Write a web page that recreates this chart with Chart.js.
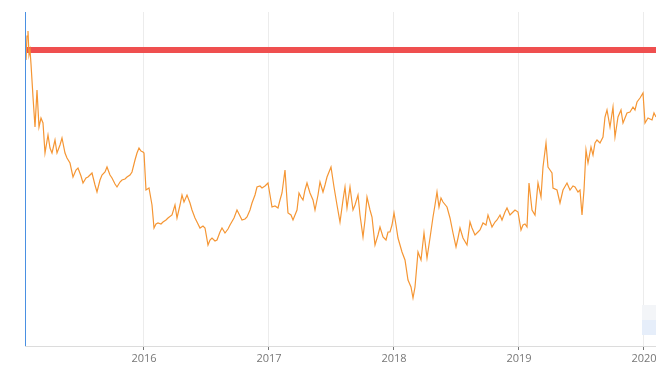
<!DOCTYPE html>
<html>
<head>
<meta charset="utf-8">
<script src="https://cdn.jsdelivr.net/npm/chart.js@4/dist/chart.umd.min.js"></script>
<style>
  html, body { margin: 0; padding: 0; background: #fff; }
  body { width: 656px; height: 369px; overflow: hidden; }
  #chart { display: block; }
</style>
</head>
<body>
<canvas id="chart" width="700" height="369"></canvas>
<script>
/******************************** data ********************************/
// decimal years
const years = [
  2015.048, 2015.056, 2015.064, 2015.072, 2015.080, 2015.088, 2015.096, 2015.112, 2015.128, 2015.144,
  2015.160, 2015.176, 2015.192, 2015.208, 2015.232, 2015.248, 2015.264, 2015.288, 2015.304, 2015.328,
  2015.344, 2015.368, 2015.384, 2015.408, 2015.432, 2015.456, 2015.472, 2015.496, 2015.512, 2015.536,
  2015.552, 2015.584, 2015.608, 2015.624, 2015.648, 2015.664, 2015.688, 2015.704, 2015.728, 2015.744,
  2015.768, 2015.784, 2015.808, 2015.824, 2015.848, 2015.864, 2015.888, 2015.904, 2015.928, 2015.944,
  2015.960, 2015.976, 2015.992, 2016.000, 2016.016, 2016.040, 2016.064, 2016.080, 2016.096, 2016.112,
  2016.136, 2016.152, 2016.176, 2016.192, 2016.224, 2016.248, 2016.264, 2016.288, 2016.304, 2016.320,
  2016.344, 2016.368, 2016.384, 2016.408, 2016.424, 2016.448, 2016.472, 2016.488, 2016.512, 2016.528,
  2016.544, 2016.568, 2016.584, 2016.608, 2016.624, 2016.648, 2016.672, 2016.688, 2016.720, 2016.744,
  2016.768, 2016.784, 2016.808, 2016.824, 2016.848, 2016.864, 2016.888, 2016.904, 2016.928, 2016.944,
  2016.968, 2016.992, 2017.008, 2017.024, 2017.048, 2017.072, 2017.088, 2017.104, 2017.128, 2017.144,
  2017.152, 2017.176, 2017.192, 2017.208, 2017.224, 2017.240, 2017.256, 2017.272, 2017.288, 2017.304,
  2017.328, 2017.352, 2017.368, 2017.392, 2017.408, 2017.432, 2017.448, 2017.464, 2017.480, 2017.496,
  2017.520, 2017.544, 2017.568, 2017.592, 2017.608, 2017.624, 2017.648, 2017.672, 2017.688, 2017.712,
  2017.728, 2017.752, 2017.768, 2017.784, 2017.808, 2017.824, 2017.848, 2017.872, 2017.888, 2017.912,
  2017.936, 2017.952, 2017.968, 2017.984, 2018.000, 2018.016, 2018.032, 2018.048, 2018.064, 2018.088,
  2018.112, 2018.136, 2018.152, 2018.168, 2018.192, 2018.216, 2018.240, 2018.264, 2018.288, 2018.312,
  2018.328, 2018.344, 2018.360, 2018.376, 2018.392, 2018.424, 2018.448, 2018.472, 2018.496, 2018.512,
  2018.528, 2018.552, 2018.584, 2018.608, 2018.624, 2018.648, 2018.672, 2018.688, 2018.712, 2018.736,
  2018.752, 2018.784, 2018.808, 2018.824, 2018.848, 2018.864, 2018.888, 2018.904, 2018.928, 2018.952,
  2018.968, 2018.992, 2019.016, 2019.032, 2019.048, 2019.064, 2019.080, 2019.104, 2019.128, 2019.152,
  2019.176, 2019.192, 2019.216, 2019.232, 2019.248, 2019.264, 2019.272, 2019.304, 2019.328, 2019.352,
  2019.384, 2019.408, 2019.432, 2019.448, 2019.472, 2019.488, 2019.504, 2019.520, 2019.536, 2019.552,
  2019.576, 2019.592, 2019.608, 2019.624, 2019.648, 2019.672, 2019.688, 2019.704, 2019.728, 2019.752,
  2019.768, 2019.792, 2019.816, 2019.832, 2019.848, 2019.864, 2019.888, 2019.912, 2019.928, 2019.944,
  2019.968, 2019.992, 2020.008, 2020.032, 2020.064, 2020.080, 2020.096
];

const prices = [
  30.8, 28.6, 31.0, 31.5, 29.1, 29.6, 28.2, 24.9, 21.9, 25.6,
  21.9, 22.8, 22.3, 19.3, 21.1, 19.8, 19.3, 20.6, 19.3, 20.1,
  20.8, 19.3, 18.8, 18.3, 16.9, 17.6, 17.8, 17.0, 16.3, 16.8,
  16.9, 17.3, 16.1, 15.4, 16.6, 17.1, 17.4, 17.9, 17.1, 16.8,
  16.2, 15.9, 16.4, 16.6, 16.7, 16.9, 17.1, 17.4, 18.6, 19.3,
  19.8, 19.5, 19.4, 19.3, 15.6, 15.8, 14.1, 11.8, 12.2, 12.3,
  12.2, 12.4, 12.6, 12.8, 13.1, 14.1, 12.8, 14.1, 15.1, 14.4,
  15.1, 14.3, 13.6, 12.8, 12.4, 11.8, 12.0, 11.8, 10.1, 10.6,
  10.8, 10.5, 10.6, 11.4, 11.8, 11.3, 11.7, 12.1, 12.8, 13.6,
  13.0, 12.6, 12.7, 12.9, 13.6, 14.3, 15.1, 15.9, 16.0, 15.8,
  16.0, 16.3, 15.1, 13.9, 14.0, 13.8, 14.6, 15.3, 17.6, 14.6,
  13.3, 13.1, 12.6, 13.1, 13.6, 15.3, 14.9, 14.6, 15.6, 16.3,
  15.3, 14.6, 13.6, 15.1, 16.4, 15.4, 16.1, 16.9, 17.4, 17.9,
  15.9, 14.1, 12.4, 14.6, 15.9, 13.8, 15.9, 13.6, 14.1, 15.1,
  13.1, 10.9, 12.6, 14.9, 13.6, 12.9, 10.1, 11.1, 11.9, 10.9,
  10.6, 11.4, 11.4, 12.1, 13.3, 12.1, 10.8, 10.1, 9.4, 8.6,
  6.6, 5.9, 4.8, 5.9, 9.4, 8.6, 11.3, 8.8, 10.8, 12.9,
  14.1, 15.4, 13.9, 14.8, 14.4, 13.9, 12.8, 11.3, 9.9, 10.8,
  11.8, 10.8, 10.1, 12.4, 11.8, 11.1, 11.4, 11.6, 12.3, 12.1,
  13.1, 11.9, 12.4, 12.6, 13.1, 12.6, 13.4, 13.8, 13.1, 13.4,
  13.6, 13.4, 11.6, 12.1, 12.2, 11.9, 16.3, 13.6, 13.1, 16.3,
  14.9, 17.9, 20.3, 17.9, 17.6, 17.3, 15.8, 15.6, 14.3, 15.6,
  16.3, 15.6, 16.0, 15.9, 15.4, 15.6, 13.1, 15.6, 19.6, 18.3,
  19.9, 19.1, 20.3, 20.6, 20.3, 20.9, 22.9, 23.6, 21.9, 23.9,
  20.9, 22.9, 23.6, 22.3, 22.8, 23.3, 23.4, 23.9, 23.6, 24.4,
  24.8, 25.3, 22.3, 22.8, 22.6, 23.3, 22.9
];

// horizontal reference level
const refLevel = 29.6;
const refFrom = 2015.064;
const refTo = 2020.2;

const xMin = 2015.048;
const xMax = 2020.096;
const yMin = 0;
const yMax = 33.4;

/******************************** chart ********************************/
let series = [];
for (let i = 0; i < years.length; i++) {
    series.push({x: years[i], y: prices[i]});
}

// blue left edge + faint box in the lower right corner
const extras = {
    id: 'extras',
    afterDraw(chart) {
        let ctx = chart.ctx;
        let a = chart.chartArea;
        ctx.save();
        ctx.fillStyle = '#f3f5f8';
        ctx.fillRect(a.right - 14, a.bottom - 41, 14, 15);
        ctx.fillStyle = '#e6eefa';
        ctx.fillRect(a.right - 14, a.bottom - 26, 14, 15);
        ctx.fillStyle = '#4a90e2';
        ctx.fillRect(a.left, a.top, 1, a.bottom - a.top);
        ctx.restore();
    }
};

new Chart(document.getElementById('chart'), {
    type: 'line',
    data: {
        datasets: [{
            data: series,
            borderColor: '#f59634',
            borderWidth: 1.2,
            pointRadius: 0,
            tension: 0,
            order: 1
        }, {
            data: [{x: refFrom, y: refLevel}, {x: refTo, y: refLevel}],
            borderColor: '#ef4f4f',
            borderWidth: 6,
            pointRadius: 0,
            borderCapStyle: 'butt',
            order: 2
        }]
    },
    options: {
        responsive: false,
        animation: false,
        layout: { padding: { left: 25, right: 44, top: 12, bottom: 0 } },
        plugins: { legend: { display: false }, tooltip: { enabled: false } },
        scales: {
            x: {
                type: 'linear',
                min: xMin,
                max: xMax,
                afterFit: (scale) => { scale.height = 23; },
                border: { color: '#dcdcdc', width: 1 },
                grid: { color: '#ececec', tickColor: '#777', tickLength: 4, lineWidth: 1 },
                ticks: {
                    stepSize: 1,
                    includeBounds: false,
                    maxRotation: 0,
                    padding: 2,
                    color: '#777',
                    font: { family: 'Open Sans', size: 11 },
                    callback: (v) => v.toString()
                }
            },
            y: {
                min: yMin,
                max: yMax,
                afterFit: (scale) => { scale.width = 0; },
                grid: { display: false },
                border: { display: false },
                ticks: { display: false }
            }
        }
    },
    plugins: [extras]
});
</script>
</body>
</html>
